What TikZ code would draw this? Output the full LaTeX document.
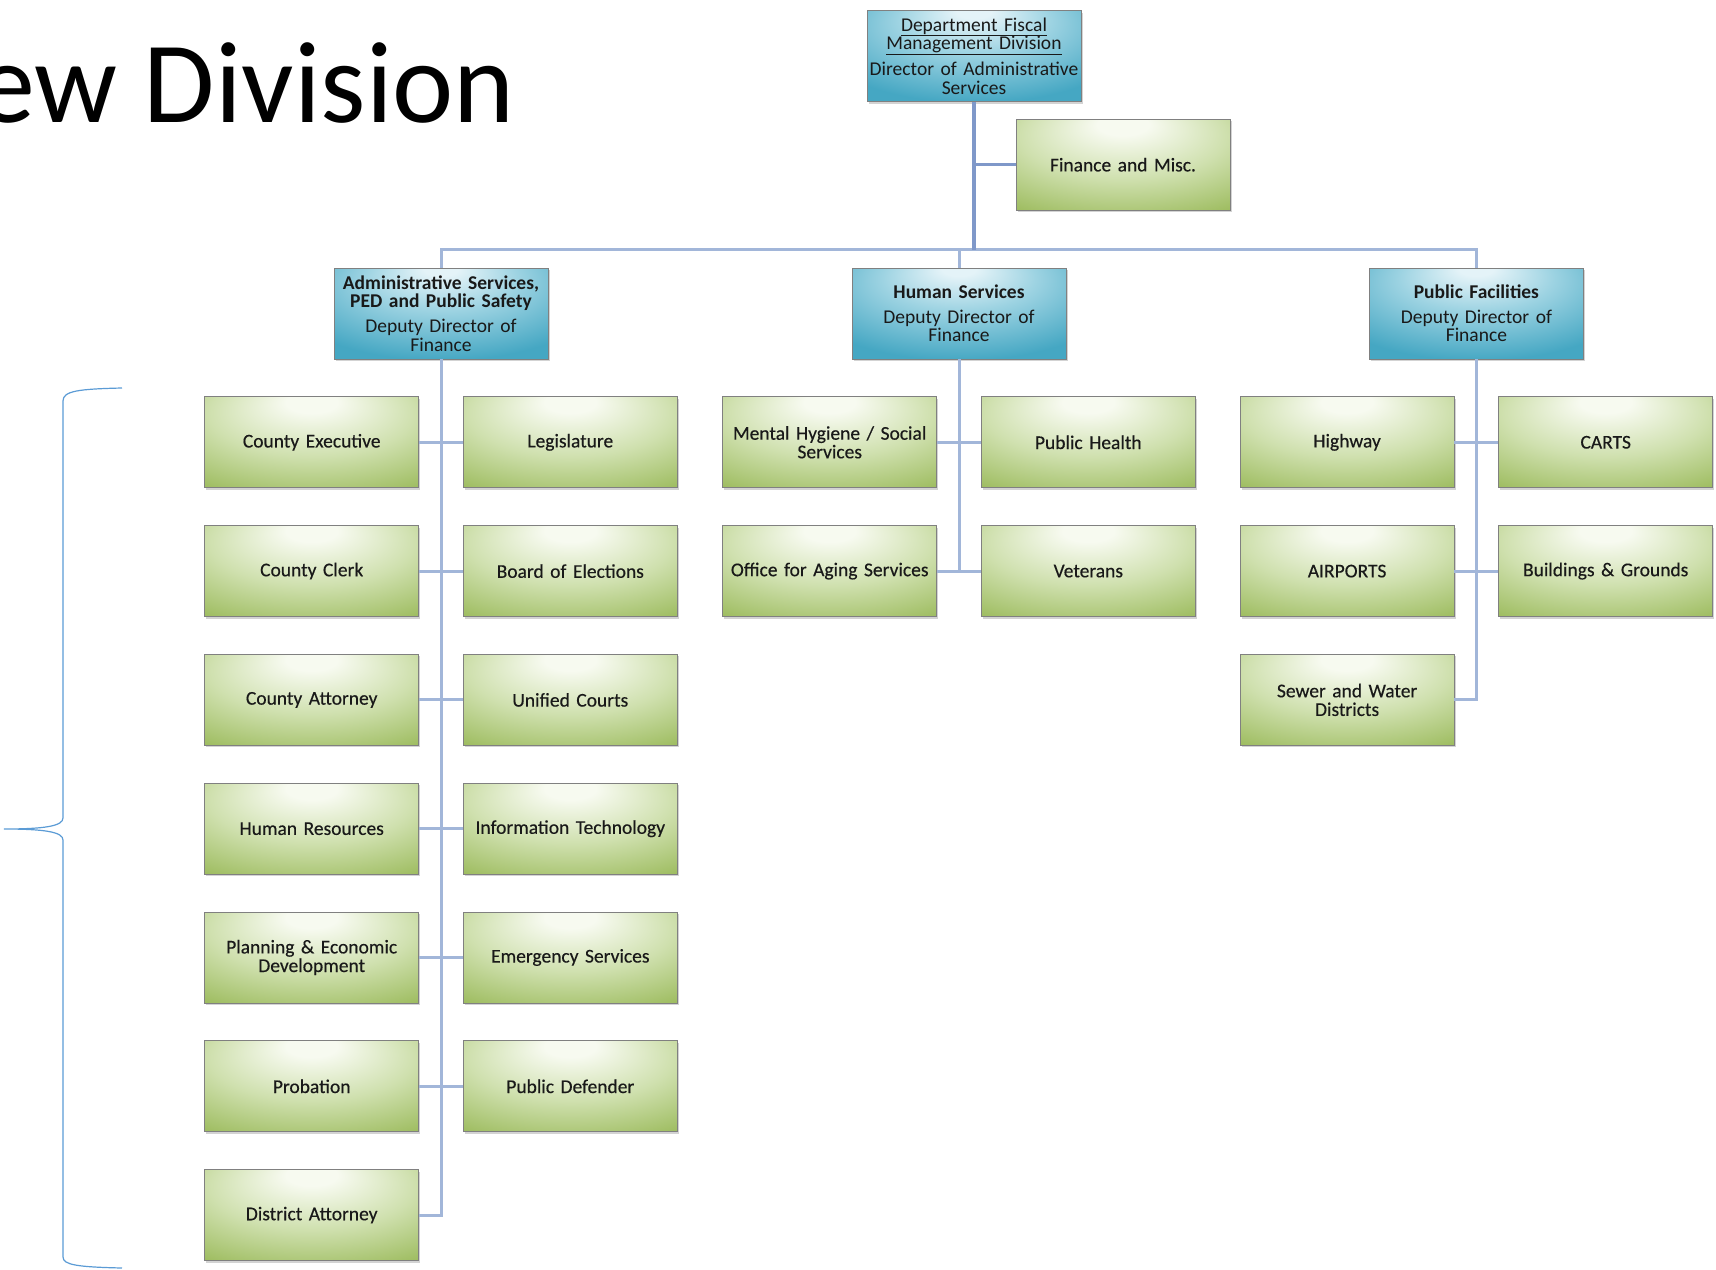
\documentclass[tikz,border=0pt]{standalone}
\usepackage{fontspec}
\setmainfont{Carlito}
\newfontfamily\unitfont{Carlito}[FakeBold=0.35]
\usetikzlibrary{positioning,shadows}

\definecolor{gedge}{HTML}{95B652}
\definecolor{glight}{HTML}{CFE0AE}
\definecolor{gwhite}{HTML}{F7FAF0}
\definecolor{bedge}{HTML}{45A7C3}
\definecolor{blight}{HTML}{9DD3E2}
\definecolor{bwhite}{HTML}{E4F3F8}
\definecolor{linecol}{HTML}{A2B6D9}
\definecolor{topcol}{HTML}{7F98C9}
\definecolor{bracecol}{HTML}{5B9BD5}

\pgfdeclareradialshading{greenfill}{\pgfpoint{0bp}{24bp}}{color(0bp)=(gwhite); color(6bp)=(gwhite); color(24bp)=(glight); color(46bp)=(gedge); color(72bp)=(gedge)}
\pgfdeclareradialshading{bluefill}{\pgfpoint{0bp}{26bp}}{color(0bp)=(bwhite); color(4bp)=(bwhite); color(18bp)=(blight); color(38bp)=(bedge); color(72bp)=(bedge)}

\tikzstyle{headbox} = [rectangle, minimum width=214pt, minimum height=91pt, inner sep=2pt, text width=210pt, align=center, draw=black!50, line width=0.75pt, shade, shading=bluefill, drop shadow={shadow xshift=1.5pt, shadow yshift=-2pt, opacity=0.35}, text=black!90, font=\fontsize{19.5}{18.6}\selectfont]
\tikzstyle{unitbox} = [rectangle, minimum width=214pt, minimum height=91pt, inner sep=2pt, text width=210pt, align=center, draw=black!50, line width=0.75pt, shade, shading=greenfill, drop shadow={shadow xshift=1.5pt, shadow yshift=-2pt, opacity=0.35}, text=black!90, font=\unitfont\fontsize{19.5}{18.6}\selectfont]
\tikzstyle{line} = [draw=linecol, line width=3pt]
\tikzstyle{topline} = [draw=topcol, line width=3.5pt]
\tikzstyle{bracepath} = [draw=bracecol, line width=1.2pt]

\begin{document}
\begin{tikzpicture}[x=1pt, y=-1pt, node distance=128.8pt]
	\useasboundingbox (0,0) rectangle (1716,1269);
	\clip (0,0) rectangle (1716,1269);
	
	\node (title) [anchor=base west, font=\fontsize{116}{118}\selectfont] at (-26,122) {ew Division};
	
	\node (dfmd) [headbox] at (974,56) {\underline{Department Fiscal}\\\underline{Management Division}\\[6pt]Director of Administrative\\Services};
	
	\node (fin) [unitbox, below of=dfmd, right of=dfmd, xshift=20.2pt, yshift=20.1pt] {Finance and Misc.};
	
	\node (admin) [headbox] at (441,313.5) {\textbf{Administrative Services,}\\\textbf{PED and Public Safety}\\[6pt]Deputy Director of\\Finance};
	\node (hs) [headbox, right of=admin, xshift=389.2pt] {\textbf{Human Services}\\[6pt]Deputy Director of\\Finance};
	\node (pf) [headbox, right of=hs, xshift=388.6pt] {\textbf{Public Facilities}\\[6pt]Deputy Director of\\Finance};
	
	\node (ce) [unitbox, below of=admin, left of=admin, xshift=-0.5pt] {County Executive};
	\node (leg) [unitbox, right of=ce, xshift=129.8pt] {Legislature};
	\node (clerk) [unitbox, below of=ce] {County Clerk};
	\node (boe) [unitbox, below of=leg] {Board of Elections};
	\node (catty) [unitbox, below of=clerk] {County Attorney};
	\node (courts) [unitbox, below of=boe] {Unified Courts};
	\node (hr) [unitbox, below of=catty] {Human Resources};
	\node (it) [unitbox, below of=courts] {Information Technology};
	\node (ped) [unitbox, below of=hr] {Planning \& Economic\\Development};
	\node (ems) [unitbox, below of=it] {Emergency Services};
	\node (prob) [unitbox, below of=ped] {Probation};
	\node (pubdef) [unitbox, below of=ems] {Public Defender};
	\node (da) [unitbox, below of=prob] {District Attorney};
	
	\node (mh) [unitbox, below of=hs, left of=hs, xshift=-0.5pt] {Mental Hygiene / Social\\Services};
	\node (ph) [unitbox, right of=mh, xshift=129.8pt] {Public Health};
	\node (aging) [unitbox, below of=mh] {Office for Aging Services};
	\node (vet) [unitbox, below of=ph] {Veterans};
	
	\node (hwy) [unitbox, below of=pf, left of=pf, xshift=-0.5pt] {Highway};
	\node (carts) [unitbox, right of=hwy, xshift=129.8pt] {CARTS};
	\node (airports) [unitbox, below of=hwy] {AIRPORTS};
	\node (bg) [unitbox, below of=carts] {Buildings \& Grounds};
	\node (sewer) [unitbox, below of=airports] {Sewer and Water\\Districts};
	
	\coordinate (bar) at (974,249.5);
	
	\draw [line] (admin.north) |- (bar) -| (pf.north);
	\draw [line] (hs.north) -- (hs.north |- bar);
	\draw [topline] (dfmd.south) -- (bar);
	\draw [topline] (dfmd.south |- fin.west) -- (fin.west);
	
	\draw [line] (admin.south) |- (da.east);
	\draw [line] (ce.east) -- (leg.west);
	\draw [line] (clerk.east) -- (boe.west);
	\draw [line] (catty.east) -- (courts.west);
	\draw [line] (hr.east) -- (it.west);
	\draw [line] (ped.east) -- (ems.west);
	\draw [line] (prob.east) -- (pubdef.west);
	
	\draw [line] (hs.south) |- (aging.east);
	\draw [line] (mh.east) -- (ph.west);
	\draw [line] (aging.east) -- (vet.west);
	
	\draw [line] (pf.south) |- (sewer.east);
	\draw [line] (hwy.east) -- (carts.west);
	\draw [line] (airports.east) -- (bg.west);
	
	\draw [bracepath] (122,388) .. controls (78,389) and (63,391) .. (63,401) -- (63,818) .. controls (63,826) and (45,829) .. (4,829) .. controls (45,829) and (63,832) .. (63,840) -- (63,1257) .. controls (63,1265) and (78,1267) .. (122,1268);
\end{tikzpicture}
\end{document}
